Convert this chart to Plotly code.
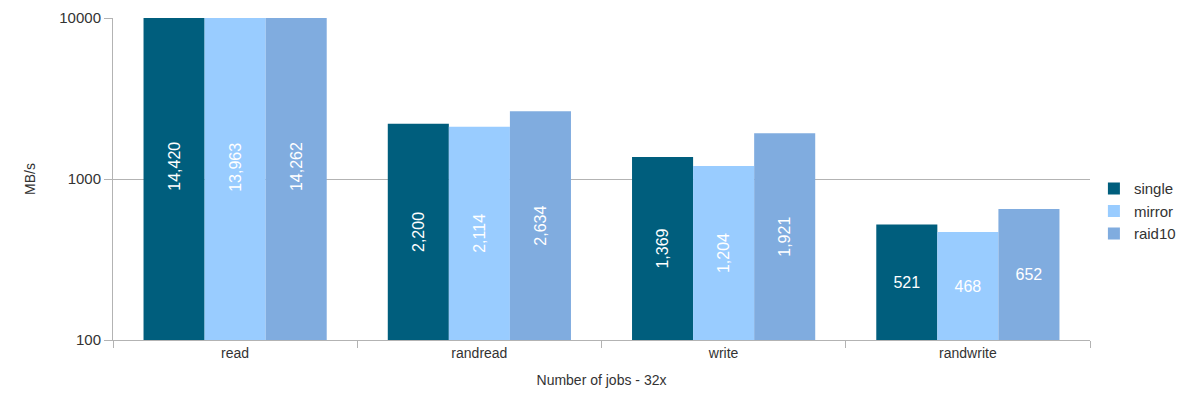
import plotly.graph_objects as go

categories = ["read", "randread", "write", "randwrite"]
series_names = ["single", "mirror", "raid10"]
single = [14420, 2200, 1369, 521]
mirror = [13963, 2114, 1204, 468]
raid10 = [14262, 2634, 1921, 652]
colors = ["#005e7d", "#99ccff", "#80acdf"]
y_ticks = [100, 1000, 10000]

FONT = "Liberation Sans, Arial, sans-serif"
fig = go.Figure()
for name, vals, col in zip(series_names, [single, mirror, raid10], colors):
    # first three categories: vertical labels
    fig.add_trace(go.Bar(
        name=name, x=categories[:3], y=vals[:3], marker_color=col,
        marker_line_width=0, offsetgroup=name, legendgroup=name,
        texttemplate="%{y:,}", textposition="inside", insidetextanchor="middle",
        textangle=-90, textfont=dict(color="white", size=16, family=FONT),
    ))
    # last category: horizontal labels
    fig.add_trace(go.Bar(
        name=name, x=categories[3:], y=vals[3:], marker_color=col,
        marker_line_width=0, offsetgroup=name, legendgroup=name, showlegend=False,
        texttemplate="%{y:,}", textposition="inside", insidetextanchor="middle",
        textangle=0, textfont=dict(color="white", size=16, family=FONT),
    ))

fig.update_layout(
    width=1174, height=389,
    margin=dict(l=105, r=92, t=10, b=57, autoexpand=False),
    barmode="group", bargap=0.25, bargroupgap=0,
    plot_bgcolor="white", paper_bgcolor="white",
    font=dict(family=FONT, size=14, color="#333333"),
    showlegend=True,
    legend=dict(x=1.004, y=0.40, xanchor="left", yanchor="middle",
                font=dict(size=15, color="#333333"), itemwidth=30,
                tracegroupgap=0),
)
fig.update_yaxes(
    type="log", range=[2, 4], tickvals=y_ticks, ticktext=[str(v) for v in y_ticks],
    showgrid=True, gridcolor="#b3b3b3", gridwidth=1,
    showline=True, linecolor="#b3b3b3", linewidth=1,
    ticks="outside", ticklen=8, tickcolor="#b3b3b3",
    tickfont=dict(size=15, color="#333333"), automargin=False,
    title=dict(text="MB/s", font=dict(size=14, color="#333333"), standoff=20),
    zeroline=False,
)
fig.update_xaxes(
    showline=True, linecolor="#b3b3b3", linewidth=1,
    ticks="outside", tickson="boundaries", ticklen=7, tickcolor="#b3b3b3",
    tickfont=dict(size=14, color="#333333"), automargin=False,
    title=dict(text="Number of jobs - 32x", font=dict(size=14, color="#333333"), standoff=15),
)
fig.write_html("out.html")
